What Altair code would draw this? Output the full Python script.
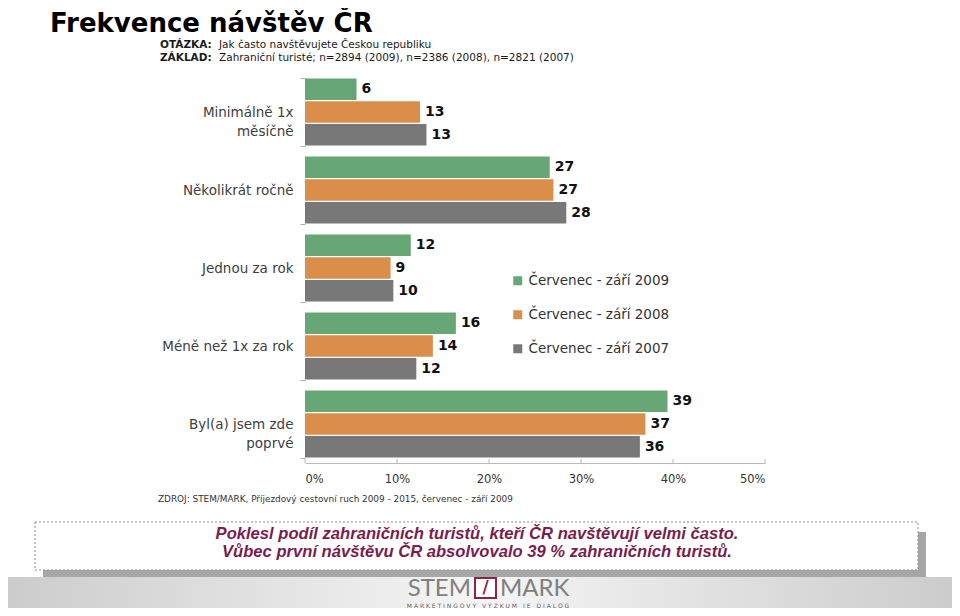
import altair as alt
import pandas as pd

# ---------------- data ----------------
categories = ["Minimálně 1x\nměsíčně", "Několikrát ročně", "Jednou za rok",
              "Méně než 1x za rok", "Byl(a) jsem zde\npoprvé"]
series = ["Červenec - září 2009", "Červenec - září 2008", "Červenec - září 2007"]
colors = ["#67a776", "#db8d4a", "#787878"]

v2009 = [5.6, 26.6, 11.5, 16.4, 39.4]
v2008 = [12.5, 27.0, 9.3, 13.9, 37.0]
v2007 = [13.2, 28.4, 9.6, 12.1, 36.4]
lab2009 = [6, 27, 12, 16, 39]
lab2008 = [13, 27, 9, 14, 37]
lab2007 = [13, 28, 10, 12, 36]

x_ticks = [0, 10, 20, 30, 40, 50]

title_text = "Frekvence návštěv ČR"
q_label, q_text = "OTÁZKA:", "Jak často navštěvujete Českou republiku"
b_label, b_text = "ZÁKLAD:", "Zahraniční turisté; n=2894 (2009),  n=2386 (2008), n=2821 (2007)"
source_text = "ZDROJ: STEM/MARK, Příjezdový cestovní ruch 2009 - 2015,  červenec - září 2009"
note1 = "Poklesl podíl zahraničních turistů, kteří ČR navštěvují velmi často."
note2 = "Vůbec první návštěvu ČR absolvovalo 39 % zahraničních turistů."
logo_left, logo_right = "STEM", "MARK"
logo_sub = "\u2003".join(" ".join(w) for w in ["MARKETINGOVÝ", "VÝZKUM", "JE", "DIALOG"])

rows = []
for s, vals, labs in zip(series, [v2009, v2008, v2007], [lab2009, lab2008, lab2007]):
    for c, v, l in zip(categories, vals, labs):
        rows.append({"cat": c, "series": s, "value": v, "label": str(l)})
df = pd.DataFrame(rows)
one = pd.DataFrame({"k": [0]})
ticks_df = pd.DataFrame({"t": x_ticks})

FONT = "DejaVu Sans"

y_enc = alt.Y("cat:N", sort=categories,
              scale=alt.Scale(paddingInner=0.14, paddingOuter=0.07),
              axis=alt.Axis(title=None, labelExpr="split(datum.label, '\\n')",
                            labelFontSize=13.5, labelFont=FONT, labelColor="#404040",
                            labelLineHeight=19, domain=False, tickBand="extent",
                            tickSize=5, tickColor="#b0b0b0", labelPadding=7,
                            labelLimit=300))
yoff = alt.YOffset("series:N", sort=series, scale=alt.Scale(paddingInner=0.06))
x_enc = alt.X("value:Q", scale=alt.Scale(domain=[0, 50], nice=False),
              axis=alt.Axis(values=x_ticks, labelExpr="datum.value + '%'", title=None,
                            grid=False, ticks=False, domainColor="#b8b8b8",
                            labelFontSize=11.5, labelFont=FONT, labelColor="#333333",
                            labelPadding=10))

bars = alt.Chart(df).mark_bar().encode(
    x=x_enc, y=y_enc, yOffset=yoff,
    color=alt.Color("series:N", sort=series,
                    scale=alt.Scale(domain=series, range=colors),
                    legend=alt.Legend(orient="none", legendX=206, legendY=201, title=None,
                                      symbolType="square", symbolSize=81,
                                      symbolStrokeWidth=0, labelFontSize=13.5,
                                      labelFont=FONT, labelColor="#333333",
                                      rowPadding=19, labelOffset=4, padding=0)))

labels = alt.Chart(df).mark_text(align="left", baseline="middle", dx=5, font=FONT,
                                 fontSize=14, fontWeight="bold", color="#111111").encode(
    x="value:Q", y=alt.Y("cat:N", sort=categories), yOffset=yoff, text="label:N")

xticks = alt.Chart(ticks_df).mark_rule(color="#b8b8b8").encode(
    x="t:Q", y=alt.value(386), y2=alt.value(390))


def txt(t, x, y, **kw):
    return alt.Chart(one).mark_text(text=t, **kw).encode(x=alt.value(x), y=alt.value(y))


def rect(x, x2, y, y2, **kw):
    return alt.Chart(one).mark_rect(**kw).encode(
        x=alt.value(x), x2=alt.value(x2), y=alt.value(y), y2=alt.value(y2))


annot = [
    txt(title_text, -255, -41, align="left", baseline="alphabetic", font=FONT,
        fontSize=26, fontWeight="bold", color="#000000"),
    txt(q_label, -145, -25, align="left", baseline="alphabetic", font=FONT,
        fontSize=10.5, fontWeight="bold", color="#1a1a1a"),
    txt(q_text, -86, -25, align="left", baseline="alphabetic", font=FONT,
        fontSize=10.5, color="#1a1a1a"),
    txt(b_label, -145, -12, align="left", baseline="alphabetic", font=FONT,
        fontSize=10.5, fontWeight="bold", color="#1a1a1a"),
    txt(b_text, -86, -12, align="left", baseline="alphabetic", font=FONT,
        fontSize=10.5, color="#1a1a1a"),
    txt(source_text, -147, 426, align="left", baseline="middle", font=FONT,
        fontSize=8.9, color="#333333"),
    rect(-262, 621, 459, 505, fill="#a6a6a6"),
    rect(-270, 613, 449, 497, fill="white", stroke="#8a8a8a", strokeDash=[2, 2],
         strokeWidth=1),
    txt(note1, 172, 461, align="center", baseline="middle", font="Liberation Sans",
        fontSize=16.6, fontWeight="bold", fontStyle="italic", color="#7b1c4e"),
    txt(note2, 172, 479, align="center", baseline="middle", font="Liberation Sans",
        fontSize=16.6, fontWeight="bold", fontStyle="italic", color="#7b1c4e"),
    rect(-310, 660, 504, 540,
         fill={"gradient": "linear", "x1": 0, "y1": 0, "x2": 1, "y2": 0,
               "stops": [{"offset": 0, "color": "#cbcbcb"},
                         {"offset": 0.5, "color": "#f5f5f5"},
                         {"offset": 1, "color": "#cbcbcb"}]}),
    txt(logo_left, 166, 523, align="right", baseline="alphabetic", font="Lato",
        fontSize=24, color="#808080"),
    txt(logo_right, 195, 523, align="left", baseline="alphabetic", font="Lato",
        fontSize=24, color="#808080"),
    rect(170, 191, 505, 525, fill="white", stroke="#8c2449", strokeWidth=2),
    txt("/", 180.5, 515, align="center", baseline="middle", font=FONT,
        fontSize=17, fontWeight="bold", color="#8c2449"),
    txt(logo_sub, 183, 534.5, align="center", baseline="alphabetic", font=FONT,
        fontSize=6, color="#666666"),
]

chart = alt.layer(*annot, bars, labels, xticks).properties(
    width=460, height=390,
    padding={"left": 297, "top": 65, "right": 187, "bottom": 145},
    autosize=alt.AutoSizeParams(type="none"),
    background="white",
).configure_view(stroke=None)

chart.save("out.html", embed_options={"renderer": "svg", "actions": False})
